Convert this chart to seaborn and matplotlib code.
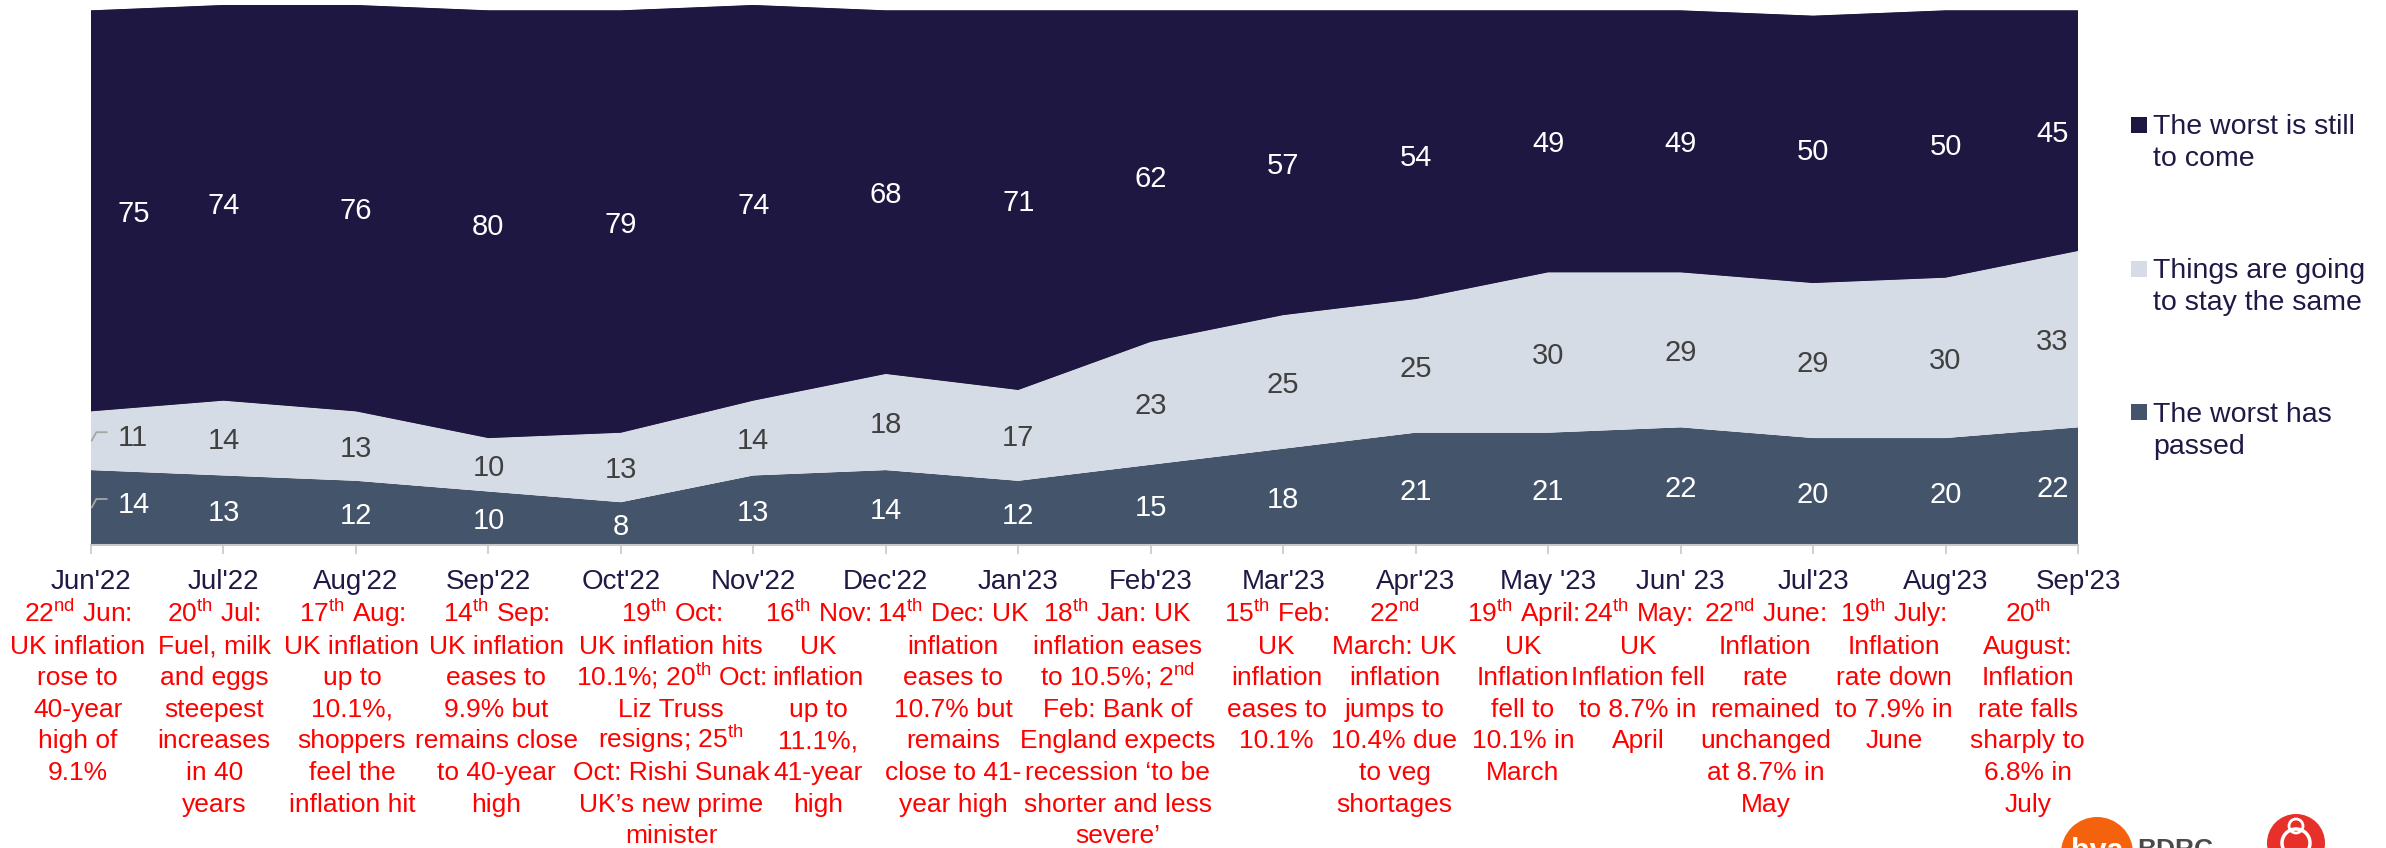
import numpy as np
import pandas as pd
import matplotlib
matplotlib.use("Agg")
import matplotlib.pyplot as plt
from matplotlib import transforms, patches
import seaborn as sns
import seaborn.objects as so

# ---------------- data ----------------
months = ["Jun'22", "Jul'22", "Aug'22", "Sep'22", "Oct'22", "Nov'22", "Dec'22",
          "Jan'23", "Feb'23", "Mar'23", "Apr'23", "May '23", "Jun' 23",
          "Jul'23", "Aug'23", "Sep'23"]
worst_passed = [14, 13, 12, 10, 8, 13, 14, 12, 15, 18, 21, 21, 22, 20, 20, 22]
stay_same = [11, 14, 13, 10, 13, 14, 18, 17, 23, 25, 25, 30, 29, 29, 30, 33]
still_to_come = [75, 74, 76, 80, 79, 74, 68, 71, 62, 57, 54, 49, 49, 50, 50, 45]

series_names = ["The worst has passed", "Things are going to stay the same",
                "The worst is still to come"]
legend_labels = ["The worst is still\nto come", "Things are going\nto stay the same",
                 "The worst has\npassed"]

S = lambda t: r"$^{\mathrm{" + t + r"}}$"
notes = [
    "22" + S("nd") + " Jun:\nUK inflation\nrose to\n40-year\nhigh of\n9.1%",
    "20" + S("th") + " Jul:\nFuel, milk\nand eggs\nsteepest\nincreases\nin 40\nyears",
    "17" + S("th") + " Aug:\nUK inflation\nup to\n10.1%,\nshoppers\nfeel the\ninflation hit",
    "14" + S("th") + " Sep:\nUK inflation\neases to\n9.9% but\nremains close\nto 40-year\nhigh",
    "19" + S("th") + " Oct:\nUK inflation hits\n10.1%; 20" + S("th") + " Oct:\nLiz Truss\nresigns; 25"
    + S("th") + "\nOct: Rishi Sunak\nUK\u2019s new prime\nminister",
    "16" + S("th") + " Nov:\nUK\ninflation\nup to\n11.1%,\n41-year\nhigh",
    "14" + S("th") + " Dec: UK\ninflation\neases to\n10.7% but\nremains\nclose to 41-\nyear high",
    "18" + S("th") + " Jan: UK\ninflation eases\nto 10.5%; 2" + S("nd")
    + "\nFeb: Bank of\nEngland expects\nrecession \u2018to be\nshorter and less\nsevere\u2019",
    "15" + S("th") + " Feb:\nUK\ninflation\neases to\n10.1%",
    "22" + S("nd") + "\nMarch: UK\ninflation\njumps to\n10.4% due\nto veg\nshortages",
    "19" + S("th") + " April:\nUK\nInflation\nfell to\n10.1% in\nMarch",
    "24" + S("th") + " May:\nUK\nInflation fell\nto 8.7% in\nApril",
    "22" + S("nd") + " June:\nInflation\nrate\nremained\nunchanged\nat 8.7% in\nMay",
    "19" + S("th") + " July:\nInflation\nrate down\nto 7.9% in\nJune",
    "20" + S("th") + "\nAugust:\nInflation\nrate falls\nsharply to\n6.8% in\nJuly",
]
# horizontal anchor of each annotation block, in month units (layout)
note_x = [-0.10, 0.93, 1.97, 3.06, 4.38, 5.49, 6.51, 7.75, 8.95, 9.84,
          10.81, 11.68, 12.64, 13.61, 14.62]

colors = {"The worst has passed": "#44546A",
          "Things are going to stay the same": "#D6DCE5",
          "The worst is still to come": "#1E1741"}
label_colors = ["white", "#404040", "white"]
navy_text = "#1F1A45"

# ---------------- style ----------------
sns.set_theme(style="white")
plt.rcParams["font.family"] = ["Liberation Sans", "DejaVu Sans"]
plt.rcParams["mathtext.fontset"] = "custom"
plt.rcParams["mathtext.rm"] = "Liberation Sans"
plt.rcParams["mathtext.it"] = "Liberation Sans:italic"
plt.rcParams["mathtext.bf"] = "Liberation Sans:bold"
plt.rcParams["mathtext.sf"] = "Liberation Sans"

W, H = 2386, 848
fig = plt.figure(figsize=(W / 100, H / 100), dpi=100)
fig.patch.set_facecolor("white")
ax = fig.add_axes([91 / W, (H - 545) / H, (2078 - 91) / W, (545 - 5) / H])

n = len(months)
idx = np.arange(n)
frames = []
for name, vals in zip(series_names, [worst_passed, stay_same, still_to_come]):
    frames.append(pd.DataFrame({"idx": idx, "value": vals, "series": name}))
df = pd.concat(frames, ignore_index=True).sort_values(["idx"], kind="stable")

(
    so.Plot(df, x="idx", y="value", color="series")
    .add(so.Area(alpha=1, edgewidth=0.6, edgealpha=1), so.Stack(), legend=False)
    .scale(color=so.Nominal(colors, order=series_names))
    .on(ax)
    .plot()
)
fig.legends.clear()

ax.set_facecolor("white")
ax.grid(False)
ax.set_xlim(0, n - 1)
ax.set_ylim(0, 101)
ax.set_xlabel("")
ax.set_ylabel("")
for s in ["top", "right", "left"]:
    ax.spines[s].set_visible(False)
ax.spines["bottom"].set_color("#C8C8C8")
ax.spines["bottom"].set_linewidth(1.5)
ax.set_yticks([])
ax.set_xticks(idx)
ax.set_xticklabels(months)
ax.tick_params(axis="x", direction="out", length=6.5, width=1.2, color="#C8C8C8",
               pad=11, labelsize=20, labelcolor=navy_text, bottom=True)

# ---------------- value labels ----------------
base = np.zeros(n)
for k, vals in enumerate([worst_passed, stay_same, still_to_come]):
    v = np.array(vals, dtype=float)
    centers = base + v / 2
    for i in range(n):
        y = centers[i]
        if i == 0:
            x, ha = 0.2, "left"
            if k < 2:
                y = centers[i] + 1.1
                ax.plot([0.005, 0.04, 0.12], [centers[i], centers[i] + 1.6, centers[i] + 1.6],
                        color="#A6A6A6", lw=1.3, clip_on=False, zorder=5)
        elif i == n - 1:
            x, ha = n - 1 - 0.07, "right"
        else:
            x, ha = i, "center"
        ax.text(x, y, f"{int(v[i])}", ha=ha, va="center_baseline", fontsize=21,
                color=label_colors[k], zorder=6)
    base += v

# ---------------- annotations (one text per line, uniform line pitch) ----------------
trans = transforms.blended_transform_factory(ax.transData, fig.transFigure)
first_baseline_px = 622.0
line_pitch_px = 31.6
for x, s in zip(note_x, notes):
    for j, line in enumerate(s.split("\n")):
        ax.text(x, 1 - (first_baseline_px + j * line_pitch_px) / H, line,
                transform=trans, ha="center", va="baseline",
                fontsize=19, color="#FF0000", clip_on=False)

# ---------------- legend (manual) ----------------
legend_series = ["The worst is still to come", "Things are going to stay the same",
                 "The worst has passed"]
line1_centers = [125, 269, 412]
for name, lab, yc in zip(legend_series, legend_labels, line1_centers):
    fig.patches.append(patches.Rectangle((2131 / W, 1 - (yc + 8) / H), 16 / W, 16 / H,
                                         transform=fig.transFigure,
                                         facecolor=colors[name], edgecolor="none"))
    fig.text(2153 / W, 1 - (yc - 10.5) / H, lab, ha="left", va="top",
             fontsize=20.5, color=navy_text, linespacing=1.3)

# ---------------- logos (decorative, bottom right) ----------------
dpi_t = fig.dpi_scale_trans
fig.patches.append(patches.Circle((2097 / 100, (H - 853) / 100), 0.36,
                                  transform=dpi_t, facecolor="#F5620E", edgecolor="none"))
fig.text(2097 / W, 1 - 837 / H, "bva", ha="center", va="top", fontsize=22,
         fontweight="bold", color="white")
fig.text(2137 / W, 1 - 838 / H, "BDRC", ha="left", va="top", fontsize=19,
         fontweight="bold", color="#4A4A4A")
fig.text(2216 / W, 1 - 838 / H, "-", ha="left", va="top", fontsize=19,
         fontweight="bold", color="#F5620E")
fig.patches.append(patches.Circle((2296 / 100, (H - 843) / 100), 0.29,
                                  transform=dpi_t, facecolor="#E8302A", edgecolor="none"))
fig.patches.append(patches.Circle((2296 / 100, (H - 843) / 100), 0.14,
                                  transform=dpi_t, facecolor="none", edgecolor="white", lw=2.5))
fig.patches.append(patches.Circle((2296 / 100, (H - 826) / 100), 0.07,
                                  transform=dpi_t, facecolor="none", edgecolor="white", lw=2))

fig.savefig("out.png", dpi=100, facecolor="white")
